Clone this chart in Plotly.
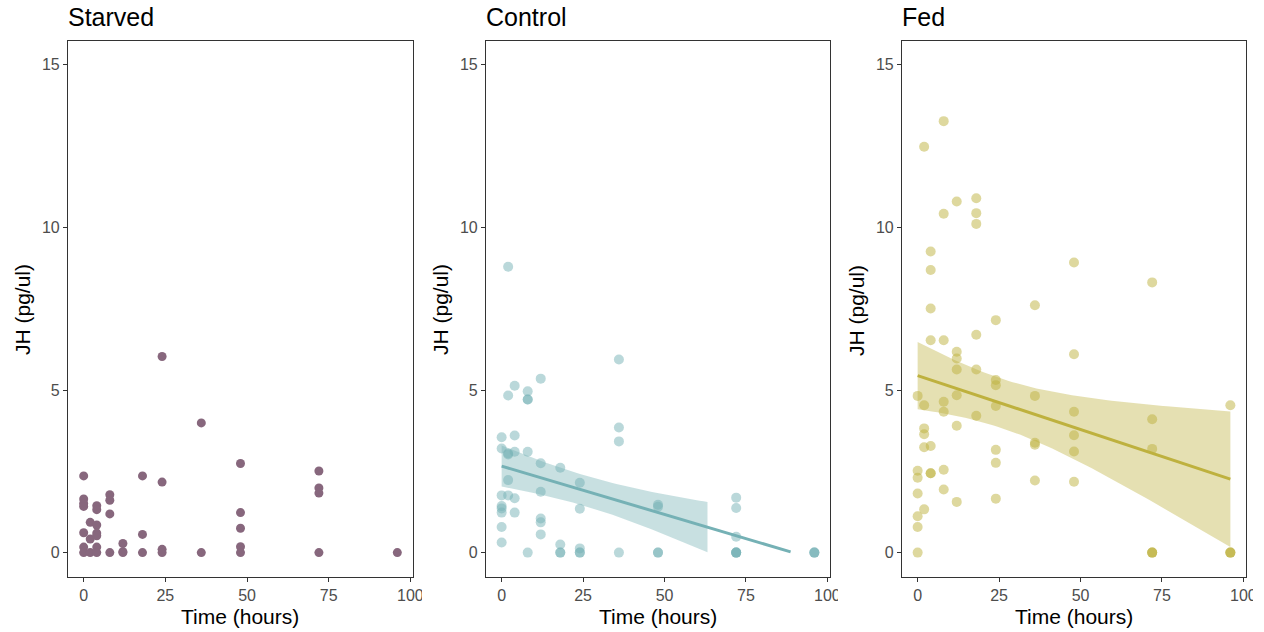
import numpy as np
import plotly.graph_objects as go

# ---------------- data ----------------
starved_time = [0, 0, 0, 0, 0, 0, 0,
                2, 2, 2,
                4, 4, 4, 4, 4, 4, 4,
                8, 8, 8, 8,
                12, 12, 12,
                18, 18, 18,
                24, 24, 24, 24,
                36, 36,
                48, 48, 48, 48, 48,
                72, 72, 72, 72,
                96]
starved_jh = [2.36, 1.65, 1.51, 1.42, 0.61, 0.17, 0,
              0.93, 0.42, 0,
              1.44, 1.32, 0.85, 0.60, 0.52, 0.17, 0,
              1.78, 1.61, 1.19, 0,
              0.28, 0.03, 0,
              2.36, 0.56, 0,
              6.03, 2.17, 0.10, 0,
              3.99, 0,
              2.74, 1.23, 0.75, 0.18, 0,
              2.51, 1.99, 1.83, 0,
              0]

control_time = [0, 0, 0, 0, 0, 0, 0, 0,
                2, 2, 2, 2, 2, 2,
                4, 4, 4, 4, 4,
                8, 8, 8, 8, 8,
                12, 12, 12, 12, 12, 12,
                18, 18, 18, 18,
                24, 24, 24, 24, 24,
                36, 36, 36, 36,
                48, 48, 48, 48,
                72, 72, 72, 72, 72, 72, 72,
                96, 96, 96]
control_jh = [3.55, 3.20, 1.76, 1.43, 1.36, 1.23, 0.79, 0.31,
              8.79, 4.83, 3.05, 3.02, 2.23, 1.76,
              5.13, 3.60, 3.10, 1.67, 1.23,
              4.96, 4.71, 4.71, 3.10, 0,
              5.35, 2.75, 1.87, 1.05, 0.93, 0.56,
              2.61, 0.25, 0, 0,
              2.15, 1.35, 0.13, 0, 0,
              5.94, 3.85, 3.42, 0,
              1.47, 1.41, 0, 0,
              1.69, 1.37, 0.49, 0, 0, 0, 0,
              0, 0, 0]

fed_time = [0, 0, 0, 0, 0, 0, 0,
            2, 2, 2, 2, 2, 2,
            4, 4, 4, 4, 4, 4, 4,
            8, 8, 8, 8, 8, 8, 8,
            12, 12, 12, 12, 12, 12, 12,
            18, 18, 18, 18, 18, 18,
            24, 24, 24, 24, 24, 24, 24,
            36, 36, 36, 36, 36,
            48, 48, 48, 48, 48, 48,
            72, 72, 72, 72, 72, 72,
            96, 96, 96, 96]
fed_jh = [4.82, 2.52, 2.30, 1.82, 1.12, 0.79, 0,
          12.48, 4.53, 3.82, 3.64, 3.24, 1.33,
          9.26, 8.69, 7.51, 6.53, 3.28, 2.44, 2.44,
          13.27, 10.42, 6.53, 4.64, 4.33, 2.55, 1.94,
          10.80, 6.18, 5.97, 5.63, 4.84, 3.90, 1.56,
          10.90, 10.44, 10.11, 6.70, 5.63, 4.21,
          7.15, 5.31, 5.15, 4.51, 3.16, 2.76, 1.66,
          7.61, 4.82, 3.38, 3.32, 2.22,
          8.92, 6.10, 4.33, 3.61, 3.11, 2.18,
          8.31, 4.10, 3.19, 0, 0, 0,
          4.53, 0, 0, 0]

panel_titles = ["Starved", "Control", "Fed"]
x_ticks = [0, 25, 50, 75, 100]
y_ticks = [0, 5, 10, 15]
y_limits = [0, 15]

# ---------------- styling ----------------
W, H = 1264, 632
FONT = "Liberation Sans, Arial, Helvetica, sans-serif"
starved_col = "#87677D"
control_rgb = (117, 177, 181)
fed_rgb = (190, 177, 62)

def rgba(c, a):
    return "rgba(%d,%d,%d,%.3f)" % (c[0], c[1], c[2], a)

# panel pixel boxes (left, right), common top/bottom
panels_px = [(68, 413), (486, 830), (902, 1246)]
top_px, bot_px = 40.5, 577

def t975(df):
    z = 1.959964
    return (z + (z**3 + z) / (4 * df)
            + (5 * z**5 + 16 * z**3 + 3 * z) / (96 * df**2)
            + (3 * z**7 + 19 * z**5 + 17 * z**3 - 15 * z) / (384 * df**3))

def lm_fit(x, y, n_out=80):
    x = np.asarray(x, float)
    y = np.asarray(y, float)
    n = len(x)
    xb = x.mean()
    sxx = ((x - xb) ** 2).sum()
    b1 = ((x - xb) * (y - y.mean())).sum() / sxx
    b0 = y.mean() - b1 * xb
    resid = y - (b0 + b1 * x)
    s = np.sqrt((resid ** 2).sum() / (n - 2))
    xs = np.linspace(x.min(), x.max(), n_out)
    fit = b0 + b1 * xs
    se = s * np.sqrt(1.0 / n + (xs - xb) ** 2 / sxx)
    t = t975(n - 2)
    return xs, fit, fit - t * se, fit + t * se

fig = go.Figure()

datasets = [
    (starved_time, starved_jh, starved_col, None, 9),
    (control_time, control_jh, rgba(control_rgb, 0.5), control_rgb, 10),
    (fed_time, fed_jh, rgba(fed_rgb, 0.5), fed_rgb, 10),
]

for i, (tx, jy, pcol, fitcol, msize) in enumerate(datasets):
    ax = "" if i == 0 else str(i + 1)
    xa, ya = "x" + ax, "y" + ax
    fig.add_trace(go.Scatter(x=tx, y=jy, mode="markers", xaxis=xa, yaxis=ya,
                             marker=dict(color=pcol, size=msize, line=dict(width=0)),
                             showlegend=False, hoverinfo="skip"))
    if fitcol is not None:
        xs, fit, lo, hi = lm_fit(tx, jy)
        keep = (lo >= y_limits[0]) & (hi <= y_limits[1])
        bx = xs[keep]
        blo = lo[keep]
        bhi = hi[keep]
        fig.add_trace(go.Scatter(x=np.concatenate([bx, bx[::-1]]),
                                 y=np.concatenate([bhi, blo[::-1]]),
                                 mode="lines", fill="toself",
                                 fillcolor=rgba(fitcol, 0.4), line=dict(width=0),
                                 xaxis=xa, yaxis=ya, showlegend=False, hoverinfo="skip"))
        fline = np.where(fit >= y_limits[0], fit, np.nan)
        fig.add_trace(go.Scatter(x=xs, y=fline, mode="lines",
                                 line=dict(color=rgba(fitcol, 1.0), width=3),
                                 xaxis=xa, yaxis=ya, showlegend=False, hoverinfo="skip"))

layout = dict(
    width=W, height=H, margin=dict(l=0, r=0, t=0, b=0, autoexpand=False),
    paper_bgcolor="white", plot_bgcolor="white",
    font=dict(family=FONT, color="#4D4D4D"),
    showlegend=False,
)

annotations = []
shapes = []
xspan = 96.0
xpad = 0.05 * xspan
ypad = 0.05 * (y_limits[1] - y_limits[0])
for i, (l, r) in enumerate(panels_px):
    ax = "" if i == 0 else str(i + 1)
    dom_x = [l / W, r / W]
    dom_y = [(H - bot_px) / H, (H - top_px) / H]
    common = dict(showline=True, linecolor="#333333", linewidth=1.1, mirror=True,
                  ticks="outside", ticklen=4, tickwidth=1.1, tickcolor="#333333",
                  showgrid=False, zeroline=False, automargin=False,
                  tickfont=dict(size=16, color="#4D4D4D", family=FONT))
    layout["xaxis" + ax] = dict(domain=dom_x, range=[-xpad, xspan + xpad],
                                tickvals=x_ticks, ticktext=[str(v) for v in x_ticks],
                                anchor="y" + ax, **common)
    layout["yaxis" + ax] = dict(domain=dom_y, range=[y_limits[0] - ypad, y_limits[1] + ypad],
                                tickvals=y_ticks, ticktext=[str(v) for v in y_ticks],
                                anchor="x" + ax, **common)
    # panel title
    annotations.append(dict(text=panel_titles[i], xref="paper", yref="paper",
                            x=(l - 2) / W, y=(H - 17) / H, xanchor="left", yanchor="middle",
                            showarrow=False, font=dict(size=25, color="black", family=FONT)))
    # x title
    annotations.append(dict(text="Time (hours)", xref="paper", yref="paper",
                            x=(l + r) / 2 / W, y=(H - 616) / H, xanchor="center", yanchor="middle",
                            showarrow=False, font=dict(size=21, color="black", family=FONT)))
    # y title
    annotations.append(dict(text="JH (pg/ul)", xref="paper", yref="paper",
                            x=(l - 45) / W, y=(H - 310) / H, xanchor="center", yanchor="middle",
                            textangle=-90, showarrow=False,
                            font=dict(size=21, color="black", family=FONT)))
    # clip the rightmost tick label like the reference
    clip_l = r + 9 if i == 0 else (r + 8 if i == 1 else r + 7)
    shapes.append(dict(type="rect", xref="paper", yref="paper", layer="above",
                       x0=clip_l / W, x1=min(clip_l + 20, W) / W,
                       y0=(H - 606) / H, y1=(H - 583) / H,
                       fillcolor="white", line=dict(width=0)))

layout["annotations"] = annotations
layout["shapes"] = shapes
fig.update_layout(**layout)
fig.write_html("out.html")
